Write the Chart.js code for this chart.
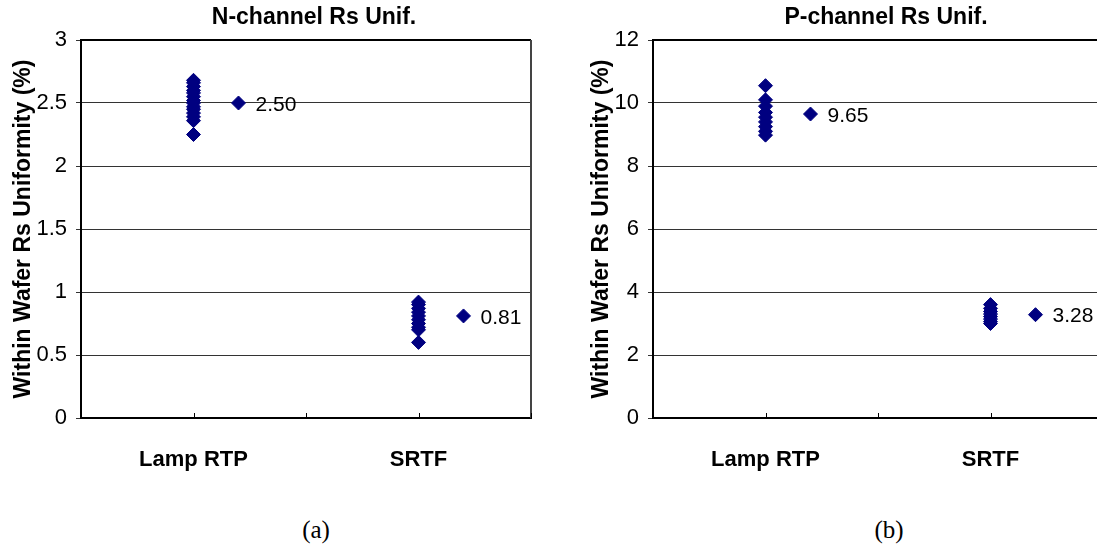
<!DOCTYPE html>
<html>
<head>
<meta charset="utf-8">
<script src="https://cdn.jsdelivr.net/npm/chart.js@4"></script>
<style>
  html, body { margin: 0; padding: 0; background: #fff; overflow: hidden; }
  body { width: 1097px; height: 547px; position: relative; }
  .box { position: absolute; top: 0; height: 490px; width: 560px; }
  #boxN { left: 0; }
  #boxP { left: 572px; }
  .cap { position: absolute; top: 517px; line-height: 26px; font-family: "Liberation Serif", "DejaVu Serif", serif; font-size: 25px; transform: translateX(-50%); }
</style>
</head>
<body>
<div class="box" id="boxN"><canvas id="chartN"></canvas></div>
<div class="box" id="boxP"><canvas id="chartP"></canvas></div>
<div class="cap" style="left:316px">(a)</div>
<div class="cap" style="left:889px">(b)</div>

<script>
// categories and where they sit on the x scale
const categories = ['Lamp RTP', 'SRTF'];
const categoryX = [1, 3];

// N-channel, Rs uniformity (%)
const nLampRtp = [2.68, 2.66, 2.63, 2.60, 2.58, 2.55, 2.52, 2.50, 2.47, 2.45, 2.42, 2.39, 2.36, 2.25];
const nSrtf = [0.92, 0.90, 0.87, 0.84, 0.81, 0.78, 0.75, 0.72, 0.70, 0.60];
const nMean = [2.50, 0.81];

// P-channel, Rs uniformity (%)
const pLampRtp = [10.55, 10.1, 9.9, 9.7, 9.55, 9.4, 9.25, 9.1, 8.98];
const pSrtf = [3.6, 3.48, 3.38, 3.3, 3.22, 3.14, 3.06, 3.0];
const pMean = [9.65, 3.28];

const nTicks = { max: 3, step: 0.5 };
const pTicks = { max: 12, step: 2 };

const Y_TITLE = 'Within Wafer Rs Uniformity (%)';
const MEAN_OFFSET = 0.4;
const NAVY = '#000080';
const FONT = '"Liberation Sans", Arial, sans-serif';


function toPoints(lists) {
    let pts = [];
    lists.forEach((vals, i) => {
        vals.forEach(v => pts.push({ x: categoryX[i], y: v }));
    });
    return pts;
}

function meanPoints(means) {
    return means.map((v, i) => ({ x: categoryX[i] + MEAN_OFFSET, y: v }));
}


// plot area border (top + right), like the Excel frame
const frame = {
    id: 'frame',
    beforeDatasetsDraw(chart) {
        const a = chart.chartArea, ctx = chart.ctx;
        ctx.save();
        ctx.lineWidth = 2;
        ctx.strokeStyle = '#000';
        ctx.beginPath();
        ctx.moveTo(a.left, a.top);
        ctx.lineTo(a.right, a.top);
        ctx.stroke();
        ctx.strokeStyle = '#444';
        ctx.beginPath();
        ctx.moveTo(a.right, a.top);
        ctx.lineTo(a.right, a.bottom);
        ctx.stroke();

        // small inward ticks on the x axis
        const xs = chart.scales.x;
        ctx.strokeStyle = '#000';
        ctx.lineWidth = 1;
        xs.ticks.forEach(t => {
            if (t.value === xs.min) return;
            const px = Math.round(xs.getPixelForValue(t.value)) + 0.5;
            ctx.beginPath();
            ctx.moveTo(px, a.bottom);
            ctx.lineTo(px, a.bottom - 5);
            ctx.stroke();
        });
        ctx.restore();
    }
};

// value text next to the mean diamond
const meanLabels = {
    id: 'meanLabels',
    afterDatasetsDraw(chart) {
        const meta = chart.getDatasetMeta(1);
        const data = chart.data.datasets[1].data;
        const ctx = chart.ctx;
        ctx.save();
        ctx.font = '21px ' + FONT;
        ctx.fillStyle = '#000';
        ctx.textAlign = 'left';
        ctx.textBaseline = 'middle';
        meta.data.forEach((pt, i) => {
            ctx.fillText(data[i].y.toFixed(2), pt.x + 17, pt.y + 2);
        });
        ctx.restore();
    }
};

// title centred on the plot area
const plotTitle = {
    id: 'plotTitle',
    afterDraw(chart, args, opts) {
        const a = chart.chartArea, ctx = chart.ctx;
        ctx.save();
        ctx.font = 'bold 23px ' + FONT;
        ctx.fillStyle = '#000';
        ctx.textAlign = 'center';
        ctx.textBaseline = 'middle';
        ctx.fillText(opts.text, (a.left + a.right) / 2 + 8, 18);
        ctx.restore();
    }
};


function makeChart(id, title, points, means, yt, padRight, titlePad) {
    return new Chart(document.getElementById(id), {
        type: 'scatter',
        data: {
            datasets: [
                { data: toPoints(points), pointStyle: 'rectRot', pointRadius: 7,
                  backgroundColor: NAVY, borderColor: NAVY, borderWidth: 1 },
                { data: meanPoints(means), pointStyle: 'rectRot', pointRadius: 7,
                  backgroundColor: NAVY, borderColor: NAVY, borderWidth: 1 }
            ]
        },
        options: {
            animation: false,
            responsive: true,
            maintainAspectRatio: false,
            events: [],
            layout: { padding: { top: 40, right: padRight, left: 0, bottom: 0 } },
            plugins: {
                legend: { display: false },
                tooltip: { enabled: false },
                plotTitle: { text: title }
            },
            scales: {
                x: {
                    type: 'linear', min: 0, max: 4,
                    afterFit: s => { s.height = 72; },
                    grid: { display: false, drawTicks: false },
                    border: { color: '#000', width: 2 },
                    ticks: {
                        stepSize: 1, autoSkip: false, maxRotation: 0, padding: 29,
                        color: '#000', font: { family: FONT, size: 22, weight: 'bold' },
                        callback: v => {
                            const i = categoryX.indexOf(v);
                            return i >= 0 ? categories[i] : '';
                        }
                    }
                },
                y: {
                    min: 0, max: yt.max,
                    afterFit: s => { s.width = 81; },
                    grid: { color: '#333', lineWidth: 1, tickLength: 5 },
                    border: { color: '#000', width: 2 },
                    ticks: {
                        stepSize: yt.step, padding: 9, color: '#000',
                        font: { family: FONT, size: 22 },
                        callback: v => String(v)
                    },
                    title: {
                        display: true, text: Y_TITLE, color: '#000',
                        font: { family: FONT, size: 23, weight: 'bold' },
                        padding: { top: titlePad, bottom: 0 }
                    }
                }
            }
        },
        plugins: [frame, meanLabels, plotTitle]
    });
}


makeChart('chartN', 'N-channel Rs Unif.', [nLampRtp, nSrtf], nMean, nTicks, 28, 10);
makeChart('chartP', 'P-channel Rs Unif.', [pLampRtp, pSrtf], pMean, pTicks, 22, 16);
</script>
</body>
</html>
